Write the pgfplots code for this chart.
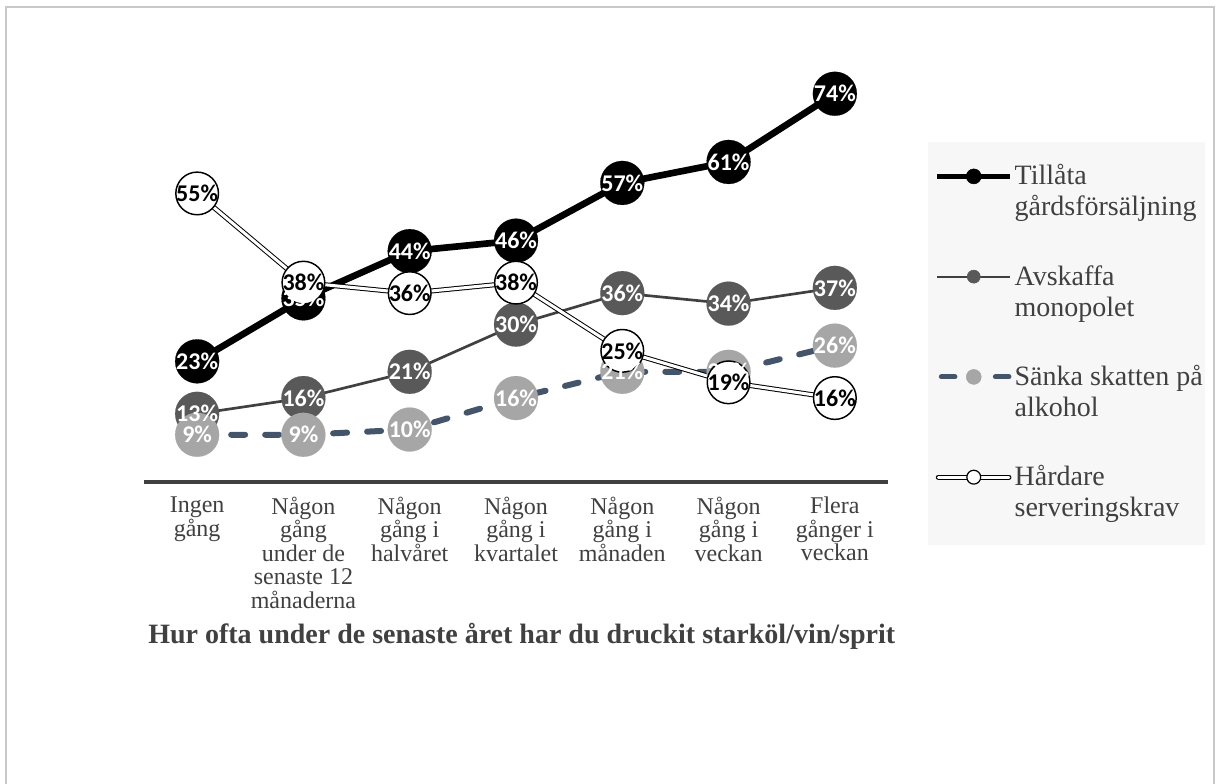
\documentclass[border=0pt]{standalone}
\usepackage{pgfplots}
\pgfplotsset{compat=1.18}
\usepackage{pgfplotstable}
\usepackage{fontspec}
\setmainfont{Liberation Serif}
\newfontfamily\lblfont{Carlito}

\definecolor{txt}{HTML}{404040}
\definecolor{axisc}{HTML}{404040}
\definecolor{avl}{HTML}{404040}
\definecolor{avm}{HTML}{595959}
\definecolor{snl}{HTML}{44546A}
\definecolor{snm}{HTML}{A6A6A6}
\definecolor{lgdbg}{HTML}{F7F7F7}
\definecolor{framec}{HTML}{C8C8C8}

\pgfplotstableread{
x a b c d
0 23 13 9 55
1 35 16 9 38
2 44 21 10 36
3 46 30 16 38
4 57 36 21 25
5 61 34 21 19
6 74 37 26 16
}\data

\newcommand\lgdstrut{\rule[-6.25pt]{0pt}{23.25pt}}
\newcommand\lgd[2]{\vtop{\hbox{\lgdstrut#1}\hbox{\lgdstrut#2}}}

\pgfplotsset{lbl/.style={forget plot, draw=none, mark=none,
  point meta=explicit symbolic,
  nodes near coords={\pgfplotspointmeta\%},
  every node near coord/.append style={anchor=center, inner sep=0pt,
    font=\lblfont\bfseries\fontsize{18}{19}\selectfont, text=#1}}}

\begin{document}
\begin{tikzpicture}
\path[use as bounding box] (0,0) rectangle (912.75pt,587.25pt);
\draw[framec, line width=1.5pt] (4.5pt,-2pt) -- (4.5pt,582.3pt) -- (910.7pt,582.3pt) -- (910.7pt,-2pt);
\begin{axis}[
  at={(108pt,225.75pt)}, anchor=south west,
  scale only axis, width=558pt, height=314.8pt,
  xmin=-0.5, xmax=6.5, ymin=0, ymax=80,
  clip=false,
  axis x line*=bottom, axis y line=none,
  x axis line style={axisc, line width=3pt},
  xtick={0,...,6},
  xticklabels={{Ingen\\gång},{Någon\\gång\\under de\\senaste 12\\månaderna},{Någon\\gång i\\halvåret},{Någon\\gång i\\kvartalet},{Någon\\gång i\\månaden},{Någon\\gång i\\veckan},{Flera\\gånger i\\veckan}},
  major tick length=0pt,
  ytick=\empty,
  xticklabel style={font=\fontsize{18}{17.6}\selectfont, text=txt, align=center, anchor=north, inner sep=0pt, yshift=-11pt},
  xlabel={Hur ofta under de senaste året har du druckit starköl/vin/sprit},
  xlabel style={font=\bfseries\fontsize{21}{24}\selectfont, text=txt, at={(rel axis cs:0,0)}, anchor=base west, inner sep=0pt, xshift=3pt, yshift=-120.75pt},
  legend style={at={(1.0538,0.8101)}, anchor=north west, fill=lgdbg, draw=none,
    inner xsep=1.5pt, inner ysep=15pt, row sep=28.7pt, column sep=1.5pt,
    cells={anchor=base west}, nodes={inner sep=0pt, text depth=},
    font=\fontsize{21}{23.25}\selectfont, text=txt},
]
\addplot[forget plot, black, line width=5pt, line join=round, mark=*, mark size=16.5pt, mark options={fill=black, draw=black, line width=0.1pt}] table[x=x,y=a]{\data};
\addplot[forget plot, avl, line width=2pt, line join=round, mark=*, mark size=16.5pt, mark options={fill=avm, draw=avm, line width=0.1pt}] table[x=x,y=b]{\data};
\addplot[forget plot, snl, line width=4.5pt, line cap=round, dash pattern=on 10.5pt off 15pt, mark=*, mark size=16.5pt, mark options={solid, fill=snm, draw=snm, line width=0.1pt}] table[x=x,y=c]{\data};
\addplot[forget plot, black, line width=0.75pt, double=white, double distance=2.25pt, line join=round] table[x=x,y=d]{\data};
\addplot[forget plot, only marks, mark=*, mark size=16pt, mark options={fill=white, draw=black, line width=1.1pt}] table[x=x,y=d]{\data};

\addplot[lbl=white] table[x=x,y=a,meta=a]{\data};
\addplot[lbl=white] table[x=x,y=b,meta=b]{\data};
\addplot[lbl=white] table[x=x,y=c,meta=c]{\data};
\addplot[lbl=black] table[x=x,y=d,meta=d]{\data};

\addlegendimage{legend image code/.code={\path[draw=none] (0pt,0pt) (60pt,0pt);
  \draw[black, line width=3.5pt] (5.25pt,6.4pt) -- (60pt,6.4pt);
  \fill[black] (32.6pt,6.4pt) circle (5.6pt);}}
\addlegendentry{\lgd{Tillåta}{gårdsförsäljning}}
\addlegendimage{legend image code/.code={\path[draw=none] (0pt,0pt) (60pt,0pt);
  \draw[avl, line width=1.5pt] (5.25pt,6.4pt) -- (60pt,6.4pt);
  \fill[avm] (32.6pt,6.4pt) circle (4.9pt);}}
\addlegendentry{\lgd{Avskaffa}{monopolet}}
\addlegendimage{legend image code/.code={\path[draw=none] (0pt,0pt) (60pt,0pt);
  \draw[snl, line width=3.75pt, line cap=round] (8.3pt,6.4pt) -- (18.5pt,6.4pt);
  \draw[snl, line width=3.75pt, line cap=round] (48.8pt,6.4pt) -- (59pt,6.4pt);
  \fill[snm] (32.6pt,6.4pt) circle (5.6pt);}}
\addlegendentry{\lgd{Sänka skatten på}{alkohol}}
\addlegendimage{legend image code/.code={\path[draw=none] (0pt,0pt) (60pt,0pt);
  \draw[black, line width=0.75pt, double=white, double distance=2.25pt, line cap=round] (6pt,6.4pt) -- (59pt,6.4pt);
  \filldraw[fill=white, draw=black, line width=0.9pt] (32.6pt,6.4pt) circle (5.2pt);}}
\addlegendentry{\lgd{Hårdare}{serveringskrav}}
\end{axis}
\end{tikzpicture}
\end{document}
